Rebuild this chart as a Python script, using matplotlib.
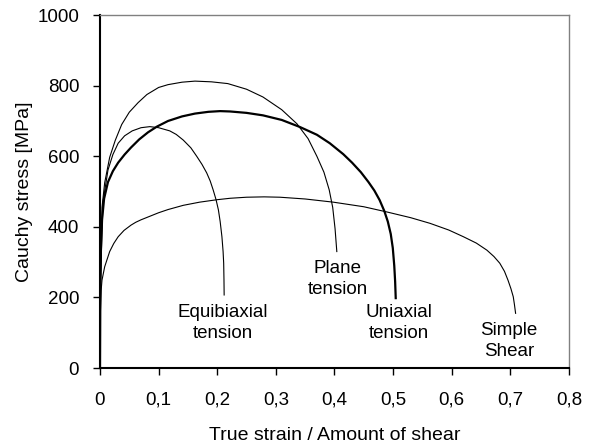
import matplotlib.pyplot as plt
from matplotlib.ticker import FuncFormatter

plt.rcParams['font.family'] = ['Liberation Sans', 'DejaVu Sans']

# curves (strain, Cauchy stress in MPa)
uniaxial_x = [0, 0.0005, 0.0015, 0.0035, 0.007, 0.0136, 0.022, 0.031, 0.042, 0.053,
              0.067, 0.082, 0.097, 0.116, 0.14, 0.162, 0.185, 0.205, 0.222, 0.25,
              0.278, 0.31, 0.341, 0.37, 0.392, 0.415, 0.43, 0.445, 0.458, 0.468,
              0.477, 0.485, 0.491, 0.496, 0.4995, 0.502, 0.5035, 0.5045]
uniaxial_y = [0, 200, 330, 420, 480, 527, 558, 582, 605, 625,
              648, 668, 684, 700, 713, 721, 726, 728, 727, 723,
              716, 703, 683, 661, 637, 606, 582, 555, 527, 503,
              476, 445, 415, 380, 340, 290, 245, 198]

plane_x = [0, 0.0008, 0.0034, 0.008, 0.0165, 0.026, 0.037, 0.05, 0.065, 0.08,
           0.1, 0.116, 0.14, 0.162, 0.19, 0.218, 0.25, 0.278, 0.31, 0.336,
           0.355, 0.37, 0.382, 0.391, 0.397, 0.401, 0.404]
plane_y = [0, 250, 455, 525, 597, 645, 690, 725, 752, 775,
           795, 803, 810, 813, 811, 806, 790, 768, 732, 692,
           650, 600, 555, 505, 455, 395, 330]

equi_x = [0, 0.0008, 0.005, 0.0136, 0.022, 0.031, 0.042, 0.055, 0.07, 0.085,
          0.1, 0.119, 0.13, 0.142, 0.155, 0.165, 0.174, 0.182, 0.188, 0.193,
          0.198, 0.202, 0.205, 0.208, 0.21, 0.211, 0.2115, 0.2118]
equi_y = [0, 250, 470, 561, 605, 637, 658, 672, 681, 684,
          681, 672, 662, 646, 624, 600, 577, 553, 530, 505,
          477, 448, 415, 372, 330, 297, 250, 207]

shear_x = [0, 0.0005, 0.002, 0.0034, 0.008, 0.0165, 0.0235, 0.031, 0.041, 0.053,
           0.061, 0.07, 0.085, 0.1, 0.116, 0.142, 0.17, 0.2, 0.222, 0.25,
           0.28, 0.307, 0.35, 0.398, 0.45, 0.49, 0.53, 0.563, 0.595, 0.62,
           0.642, 0.66, 0.672, 0.682, 0.69, 0.696, 0.701, 0.705, 0.707, 0.709]
shear_y = [0, 150, 221, 249, 287, 330, 353, 372, 390, 405,
           413, 420, 430, 440, 449, 461, 470, 477, 481, 484,
           485, 484, 479, 470, 457, 442, 426, 410, 391, 372,
           354, 334, 316, 297, 274, 249, 225, 202, 180, 155]

labels = ['Equibiaxial\ntension', 'Plane\ntension', 'Uniaxial\ntension', 'Simple\nShear']
label_x = [0.21, 0.406, 0.51, 0.698]
label_y = [127, 252, 127, 76]

fig = plt.figure(figsize=(5.97, 4.45), dpi=100)
ax = fig.add_axes([0.1675, 0.173, 0.7855, 0.793])

ax.plot(equi_x, equi_y, color='black', lw=0.8)
ax.plot(plane_x, plane_y, color='black', lw=0.8)
ax.plot(shear_x, shear_y, color='black', lw=0.8)
ax.plot(uniaxial_x, uniaxial_y, color='black', lw=1.6)

for txt, lx, ly in zip(labels, label_x, label_y):
    ax.text(lx, ly, txt, ha='center', va='center', fontsize=13.5, linespacing=1.3)

ax.set_xlim(0, 0.8)
ax.set_ylim(0, 1000)
ax.set_xticks([0, 0.1, 0.2, 0.3, 0.4, 0.5, 0.6, 0.7, 0.8])
ax.set_yticks([0, 200, 400, 600, 800, 1000])
ax.xaxis.set_major_formatter(FuncFormatter(lambda v, p: ('%g' % round(v, 1)).replace('.', ',')))

ax.tick_params(direction='out', length=5, width=1, labelsize=13.5, color='black')
ax.tick_params(axis='x', pad=12)
ax.tick_params(axis='y', pad=10)

for side in ['left', 'bottom']:
    ax.spines[side].set_linewidth(1.5)
    ax.spines[side].set_color('black')
for side in ['top', 'right']:
    ax.spines[side].set_linewidth(1.0)
    ax.spines[side].set_color('#808080')

ax.set_xlabel('True strain / Amount of shear', fontsize=14, labelpad=13)
ax.set_ylabel('Cauchy stress [MPa]', fontsize=14, labelpad=3)

fig.savefig('out.png', dpi=100)
